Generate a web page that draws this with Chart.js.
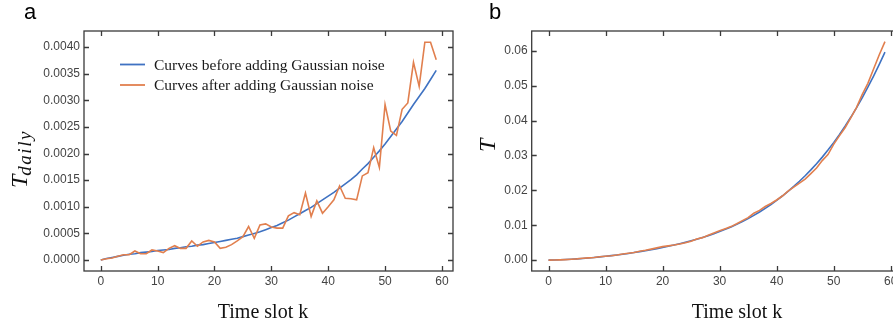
<!DOCTYPE html>
<html>
<head>
<meta charset="utf-8">
<script src="https://cdn.jsdelivr.net/npm/chart.js@4.4.1/dist/chart.umd.min.js"></script>
<style>
  html, body { margin: 0; padding: 0; background: #fff; overflow: hidden; }
  #wrap { position: relative; width: 893px; height: 326px; overflow: hidden; }
  canvas { position: absolute; top: 0; }
  #chartA { left: 0; }
  #chartB { left: 460px; }
</style>
</head>
<body>
<div id="wrap">
  <canvas id="chartA" width="460" height="326"></canvas>
  <canvas id="chartB" width="460" height="326"></canvas>
</div>
<script>
// time slots k = 0..59
const slots = Array.from({ length: 60 }, (_, i) => i);

const xTicks = [0, 10, 20, 30, 40, 50, 60];
const yTicksA = [0, 0.0005, 0.001, 0.0015, 0.002, 0.0025, 0.003, 0.0035, 0.004];
const yTicksB = [0, 0.01, 0.02, 0.03, 0.04, 0.05, 0.06];

const seriesNames = ["Curves before adding Gaussian noise", "Curves after adding Gaussian noise"];

// panel a: T_daily
const dailyBefore = [
  0, 0.00003, 0.00005, 0.00007, 0.00009, 0.00011, 0.00012, 0.00014, 0.00015, 0.00016,
  0.00018, 0.00019, 0.0002, 0.00022, 0.00023, 0.00025, 0.00026, 0.00028, 0.00029, 0.00031,
  0.00033, 0.00035, 0.00037, 0.00039, 0.00041, 0.00044, 0.00047, 0.0005, 0.00053, 0.00057,
  0.00061, 0.00065, 0.0007, 0.00075, 0.00081, 0.00087, 0.00093, 0.00099, 0.00106, 0.00113,
  0.0012, 0.00127, 0.00135, 0.00143, 0.00151, 0.0016, 0.00171, 0.00181, 0.00193, 0.00205,
  0.00218, 0.00232, 0.00246, 0.0026, 0.00276, 0.00292, 0.00307, 0.00322, 0.00339, 0.00356
];
const dailyAfter = [
  0, 0.000025, 0.00004, 0.00007, 0.0001, 0.0001, 0.00017, 0.00012, 0.00012, 0.00019,
  0.00017, 0.00014, 0.00022, 0.00027, 0.00022, 0.00022, 0.00036, 0.00026, 0.00034, 0.00037,
  0.00034, 0.00022, 0.00024, 0.00029, 0.00036, 0.00044, 0.00063, 0.00041, 0.00066, 0.00068,
  0.00062, 0.0006, 0.0006, 0.00083, 0.00089, 0.00085, 0.00126, 0.00082, 0.00111, 0.00088,
  0.001, 0.00113, 0.00139, 0.00116, 0.00115, 0.00113, 0.00158, 0.00164, 0.00211, 0.00174,
  0.00292, 0.00242, 0.00234, 0.00283, 0.00295, 0.00371, 0.00326, 0.00409, 0.00409, 0.00376
];

// panel b: T
const totalBefore = [
  0, 0.00003, 0.00008, 0.00015, 0.00024, 0.00035, 0.00047, 0.0006, 0.00075, 0.00091,
  0.00108, 0.00127, 0.00147, 0.00168, 0.00191, 0.00216, 0.00242, 0.00269, 0.00298, 0.00328,
  0.0036, 0.00395, 0.00431, 0.0047, 0.0051, 0.00553, 0.00599, 0.00648, 0.007, 0.00757,
  0.00817, 0.00881, 0.0095, 0.01024, 0.01104, 0.01189, 0.01281, 0.01379, 0.01484, 0.01595,
  0.01713, 0.01838, 0.01971, 0.02112, 0.0226, 0.02418, 0.02586, 0.02764, 0.02953, 0.03155,
  0.03369, 0.03597, 0.03839, 0.04095, 0.04367, 0.04655, 0.04958, 0.05276, 0.05611, 0.05962
];
const totalAfter = [
  0, 0.00003, 0.00007, 0.00014, 0.00024, 0.00035, 0.00051, 0.00063, 0.00075, 0.00094,
  0.00111, 0.00125, 0.00147, 0.00174, 0.00196, 0.00218, 0.00254, 0.0028, 0.00314, 0.00351,
  0.00385, 0.00407, 0.00431, 0.0046, 0.00496, 0.0054, 0.00603, 0.00644, 0.0071, 0.00778,
  0.0084, 0.009, 0.0096, 0.01043, 0.01132, 0.01217, 0.01343, 0.01425, 0.01536, 0.01624,
  0.01724, 0.01837, 0.01976, 0.02092, 0.02207, 0.0232, 0.02478, 0.02642, 0.02853, 0.03027,
  0.03319, 0.03561, 0.03795, 0.04078, 0.04373, 0.04744, 0.0507, 0.05479, 0.05888, 0.06264
];

const BLUE = "#3f72c2";
const ORANGE = "#e17f4e";
const SERIF = '"Liberation Serif", "DejaVu Serif", serif';
const SANS = '"Liberation Sans", Arial, sans-serif';

const pts = (vals) => vals.map((v, i) => ({ x: slots[i], y: v }));

// frame, inward ticks, titles, legend and panel letter
const framePlugin = {
  id: "frame",
  afterDraw(chart, args, opts) {
    const ctx = chart.ctx;
    const a = chart.chartArea;
    const sx = chart.scales.x, sy = chart.scales.y;
    const tl = 5;
    ctx.save();
    ctx.strokeStyle = "#3a3a3a";
    ctx.lineWidth = 1.3;
    ctx.strokeRect(a.left, a.top, a.right - a.left, a.bottom - a.top);
    ctx.beginPath();
    sx.ticks.forEach(t => {
      const x = Math.round(sx.getPixelForValue(t.value)) + 0.5;
      ctx.moveTo(x, a.bottom); ctx.lineTo(x, a.bottom - tl);
      ctx.moveTo(x, a.top); ctx.lineTo(x, a.top + tl);
    });
    sy.ticks.forEach(t => {
      const y = Math.round(sy.getPixelForValue(t.value)) + 0.5;
      ctx.moveTo(a.left, y); ctx.lineTo(a.left + tl, y);
      ctx.moveTo(a.right, y); ctx.lineTo(a.right - tl, y);
    });
    ctx.stroke();

    // x title
    ctx.fillStyle = "#111";
    ctx.font = "20px " + SERIF;
    ctx.textAlign = "center";
    ctx.textBaseline = "alphabetic";
    ctx.fillText("Time slot k", opts.xTitleX, 318);

    // y title (rotated, with optional subscript)
    ctx.save();
    ctx.translate(opts.yTitleX, opts.yTitleY);
    ctx.rotate(-Math.PI / 2);
    ctx.textAlign = "left";
    ctx.font = "italic 24px " + SERIF;
    ctx.fillText("T", 0, 0);
    if (opts.ySub) {
      const w = ctx.measureText("T").width;
      ctx.font = "italic 19px " + SERIF;
      ctx.letterSpacing = "1.5px";
      ctx.fillText(opts.ySub, w - 1, 4);
    }
    ctx.restore();

    // panel letter
    ctx.font = "22px " + SANS;
    ctx.textAlign = "left";
    ctx.fillStyle = "#000";
    ctx.fillText(opts.letter, opts.letterX, 19);

    // legend
    if (opts.legend) {
      ctx.font = "15.5px " + SERIF;
      ctx.textBaseline = "middle";
      chart.data.datasets.forEach((ds, i) => {
        const y = 64.5 + i * 20.5;
        ctx.strokeStyle = ds.borderColor;
        ctx.lineWidth = 1.8;
        ctx.beginPath();
        ctx.moveTo(120, y); ctx.lineTo(145, y);
        ctx.stroke();
        ctx.fillStyle = "#1a1a1a";
        ctx.fillText(ds.label, 154, y + 1);
      });
    }
    ctx.restore();
  }
};

function makeChart(id, before, after, cfg) {
  return new Chart(document.getElementById(id), {
    type: "line",
    data: {
      datasets: [
        { label: seriesNames[0], data: pts(before), borderColor: BLUE, borderWidth: 1.6, pointRadius: 0, order: 1 },
        { label: seriesNames[1], data: pts(after), borderColor: ORANGE, borderWidth: 1.6, pointRadius: 0, order: 0 }
      ]
    },
    options: {
      responsive: false,
      animation: false,
      layout: { padding: { left: 0, right: cfg.padRight, top: 31, bottom: 0 } },
      plugins: {
        legend: { display: false },
        tooltip: { enabled: false },
        frame: cfg.frame
      },
      scales: {
        x: {
          type: "linear",
          min: -2.95, max: 61.95,
          afterBuildTicks: s => { s.ticks = xTicks.map(v => ({ value: v })); },
          afterFit: s => { s.height = 55; },
          grid: { display: false, drawTicks: false },
          border: { display: false },
          ticks: { color: "#444", font: { family: SANS, size: 12 }, padding: 3, maxRotation: 0 }
        },
        y: {
          min: cfg.yMin, max: cfg.yMax,
          afterBuildTicks: s => { s.ticks = cfg.yTicks.map(v => ({ value: v })); },
          afterFit: s => { s.width = cfg.yWidth; },
          grid: { display: false, drawTicks: false },
          border: { display: false },
          ticks: {
            color: "#444", font: { family: SANS, size: 12 }, padding: 4,
            callback: v => v.toFixed(cfg.digits)
          }
        }
      }
    },
    plugins: [framePlugin]
  });
}

makeChart("chartA", dailyBefore, dailyAfter, {
  padRight: 7, yWidth: 84, yMin: -0.000205, yMax: 0.0043, yTicks: yTicksA, digits: 4,
  frame: { xTitleX: 263, yTitleX: 27, yTitleY: 188, ySub: "daily", letter: "a", letterX: 24, legend: true }
});

makeChart("chartB", totalBefore, totalAfter, {
  padRight: 18.2, yWidth: 71.7, yMin: -0.00313, yMax: 0.0657, yTicks: yTicksB, digits: 2,
  frame: { xTitleX: 277, yTitleX: 35, yTitleY: 152, ySub: "", letter: "b", letterX: 29, legend: false }
});
</script>
</body>
</html>
